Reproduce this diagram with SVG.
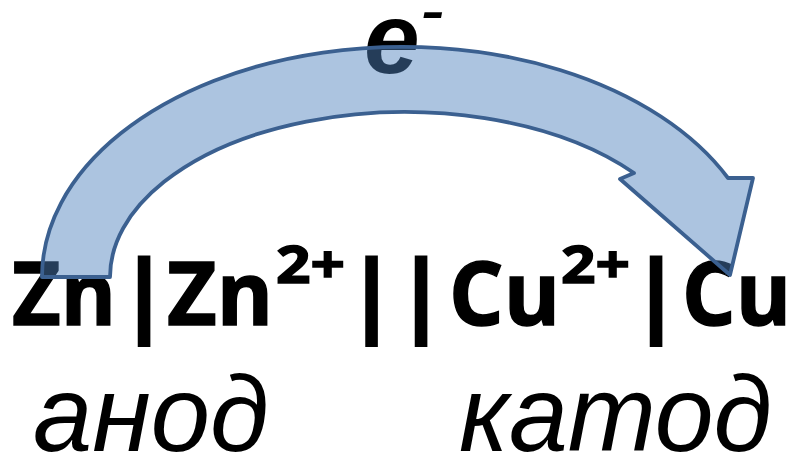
<svg xmlns="http://www.w3.org/2000/svg" width="794" height="455" viewBox="0 0 794 455">
<style>
.f{font-family:"Open Sans","Noto Sans","Liberation Sans",sans-serif;font-weight:700;fill:#000;stroke:#000;stroke-width:1.5}
.big{font-size:88px}
.sup{font-size:52px}
.bar{font-family:"Open Sans","Noto Sans","Liberation Sans",sans-serif;font-weight:700;font-size:90px;fill:#000;stroke:#000;stroke-width:3;text-anchor:middle}
.it{font-family:"Liberation Sans",Arial,sans-serif;font-style:italic;font-size:108px;fill:#000}
.e{font-family:"Liberation Sans",Arial,sans-serif;font-style:italic;font-weight:700;font-size:100px;fill:#000}
.arrow{fill:#4F81BD;fill-opacity:0.47;stroke:#3B6090;stroke-width:3.8;stroke-linejoin:round}
</style>
<g id="formula">
<text class="f big" x="12" y="325" textLength="104" lengthAdjust="spacingAndGlyphs">Zn</text>
<text class="bar" x="144" y="325">|</text>
<text class="f big" x="167" y="325" textLength="106" lengthAdjust="spacingAndGlyphs">Zn</text>
<text class="f sup" x="276" y="283" textLength="69" lengthAdjust="spacingAndGlyphs">2+</text>
<text class="bar" x="371.5" y="325">|</text>
<text class="bar" x="421" y="325">|</text>
<text class="f big" x="449" y="325" textLength="111" lengthAdjust="spacingAndGlyphs">Cu</text>
<text class="f sup" x="561" y="283" textLength="69" lengthAdjust="spacingAndGlyphs">2+</text>
<text class="bar" x="656" y="325">|</text>
<text class="f big" x="682" y="325" textLength="109" lengthAdjust="spacingAndGlyphs">Cu</text>
</g>
<g id="anode"><text class="it" x="33" y="451" textLength="236" lengthAdjust="spacingAndGlyphs">анод</text></g>
<g id="cathode"><text class="it" x="459" y="451" textLength="313" lengthAdjust="spacingAndGlyphs">катод</text></g>
<g id="electron"><text class="e" x="364" y="73">e<tspan dy="-39" font-size="72" font-weight="400">-</tspan></text></g>
<g id="connectors">
<path class="arrow" d="M42,277 A360.5,230 0 0 1 728,178 L753,178 L730,275 L620,179 L634,173 A295,165 0 0 0 110,277 Z"/>
</g>
</svg>
